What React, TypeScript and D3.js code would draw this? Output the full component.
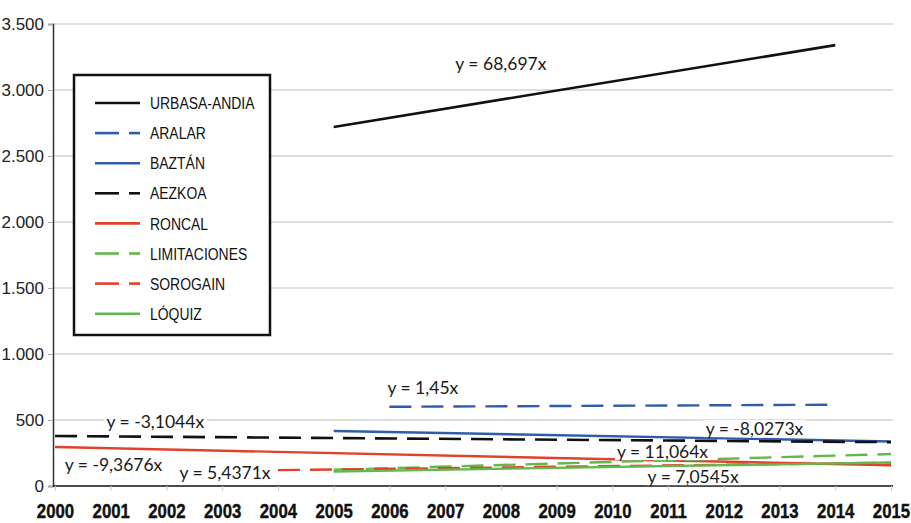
import { useEffect, useRef } from 'react';
import * as d3 from 'd3';

const years = [2000, 2001, 2002, 2003, 2004, 2005, 2006, 2007, 2008, 2009, 2010, 2011, 2012, 2013, 2014, 2015];
const yTicks = [0, 500, 1000, 1500, 2000, 2500, 3000, 3500];

const seriesNames = ['URBASA-ANDIA', 'ARALAR', 'BAZTÁN', 'AEZKOA', 'RONCAL', 'LIMITACIONES', 'SOROGAIN', 'LÓQUIZ'];
const seriesColors = ['#111111', '#2f5caa', '#2f5caa', '#111111', '#e0432b', '#62b84c', '#e0432b', '#62b84c'];
const seriesDashed = [false, true, false, true, false, true, true, false];
const startYears = [2005, 2006, 2005, 2000, 2000, 2005, 2004, 2005];
const endYears = [2014, 2014, 2015, 2015, 2015, 2015, 2015, 2015];
const startValues = [2720, 600, 417, 379, 295, 123, 120, 110];
const endValues = [3340, 616, 337, 332, 157, 242, 176, 178];

// trendline equation labels, anchored at (year, value) centre
const eqTexts = ['y = 68,697x', 'y = 1,45x', 'y = -3,1044x', 'y = -9,3676x', 'y = 5,4371x', 'y = -8,0273x', 'y = 11,064x', 'y = 7,0545x'];
const eqYears = [2008.0, 2006.6, 2001.8, 2001.05, 2003.05, 2012.55, 2010.9, 2011.45];
const eqValues = [3198, 742, 488, 158, 102, 432, 258, 68];

const W = 911;
const H = 523;
const NARROW = 0.82;

export default function App() {
  const svgRef = useRef<SVGSVGElement>(null);

  useEffect(() => {
    if (!svgRef.current) return;
    const svg = d3.select(svgRef.current);
    svg.selectAll('*').remove();

    const x = d3.scaleLinear().domain([2000, 2015]).range([55, 891]);
    const y = d3.scaleLinear().domain([0, 3500]).range([486, 24]);

    svg.append('rect').attr('width', W).attr('height', H).attr('fill', '#ffffff');

    // Grid lines
    svg
      .append('g')
      .selectAll('line')
      .data(yTicks.filter((d) => d > 0))
      .enter()
      .append('line')
      .attr('x1', 53)
      .attr('x2', 893)
      .attr('y1', (d) => y(d))
      .attr('y2', (d) => y(d))
      .attr('stroke', '#d4d4d4')
      .attr('stroke-width', 1.5);

    // Y axis
    const yAxis = svg
      .append('g')
      .attr('transform', 'translate(53,0)')
      .call(d3.axisLeft(y).tickValues(yTicks).tickSize(5).tickPadding(4).tickFormat((d) => d3.format(',')(d as number).replace(/,/g, '.')));
    yAxis.select('.domain').attr('stroke', '#333333').attr('stroke-width', 1.5);
    yAxis.selectAll('.tick line').attr('stroke', '#aaaaaa');
    yAxis
      .selectAll('text')
      .attr('fill', '#222222')
      .attr('font-family', '"Liberation Sans", Arial, sans-serif')
      .attr('font-size', '17px');

    // X axis (bold, horizontally condensed like Arial Narrow)
    const xAxis = svg
      .append('g')
      .attr('transform', 'translate(0,486)')
      .call(d3.axisBottom(x).tickValues(years).tickSize(5).tickPadding(12).tickFormat((d) => String(d)));
    xAxis.select('.domain').attr('stroke', '#111111').attr('stroke-width', 1.5).attr('d', 'M53,0H893');
    xAxis.selectAll('.tick line').attr('stroke', '#cccccc');
    xAxis
      .selectAll('text')
      .attr('fill', '#111111')
      .attr('font-family', '"Liberation Sans", Arial, sans-serif')
      .attr('font-weight', 'bold')
      .attr('font-size', '20.5px')
      .attr('stroke', '#111111')
      .attr('stroke-width', 0.4)
      .attr('transform', `scale(${NARROW},1)`);

    // Trend lines
    const idx = d3.range(seriesNames.length);
    const line = d3
      .line<[number, number]>()
      .x((d) => x(d[0]))
      .y((d) => y(d[1]));

    svg
      .append('g')
      .selectAll('path')
      .data(idx)
      .enter()
      .append('path')
      .attr('d', (i) =>
        line([
          [startYears[i], startValues[i]],
          [endYears[i], endValues[i]],
        ])
      )
      .attr('fill', 'none')
      .attr('stroke', (i) => seriesColors[i])
      .attr('stroke-width', (i) => (seriesColors[i] === '#111111' ? 2.6 : 2.4))
      .attr('stroke-dasharray', (i) => (seriesDashed[i] ? '22,10' : null));

    // Equation labels
    const labels = svg.append('g');
    eqTexts.forEach((t, i) => {
      const g = labels.append('g');
      const txt = g
        .append('text')
        .attr('x', x(eqYears[i]))
        .attr('y', y(eqValues[i]))
        .attr('dy', '0.35em')
        .attr('text-anchor', 'middle')
        .attr('fill', '#1a1a1a')
        .attr('font-family', 'Lato, "Open Sans", sans-serif')
        .attr('font-size', '17.5px')
        .text(t);
      const bb = (txt.node() as SVGTextElement).getBBox();
      g.insert('rect', 'text')
        .attr('x', bb.x - 2)
        .attr('y', bb.y + 2)
        .attr('width', bb.width + 4)
        .attr('height', bb.height - 4)
        .attr('fill', '#ffffff');
    });

    // Legend
    const legend = svg.append('g').attr('transform', 'translate(74,75)');
    legend
      .append('rect')
      .attr('width', 196)
      .attr('height', 260)
      .attr('fill', '#ffffff')
      .attr('stroke', '#111111')
      .attr('stroke-width', 2.5);

    idx.forEach((i) => {
      const row = legend.append('g').attr('transform', `translate(0,${28 + i * 30.1})`);
      if (seriesDashed[i]) {
        row.append('line').attr('x1', 21).attr('x2', 45).attr('y1', 0).attr('y2', 0)
          .attr('stroke', seriesColors[i]).attr('stroke-width', 2.6);
        row.append('line').attr('x1', 55).attr('x2', 66).attr('y1', 0).attr('y2', 0)
          .attr('stroke', seriesColors[i]).attr('stroke-width', 2.6);
      } else {
        row.append('line').attr('x1', 21).attr('x2', 66).attr('y1', 0).attr('y2', 0)
          .attr('stroke', seriesColors[i]).attr('stroke-width', 2.6);
      }
      row
        .append('text')
        .attr('transform', `translate(76,0) scale(${NARROW},1)`)
        .attr('dy', '0.36em')
        .attr('fill', '#111111')
        .attr('font-family', '"Liberation Sans", Arial, sans-serif')
        .attr('font-size', '17px')
        .text(seriesNames[i]);
    });
  }, []);

  return (
    <div style={{ position: 'absolute', left: 0, top: 0 }}>
      <svg ref={svgRef} width={W} height={H} style={{ display: 'block' }} />
    </div>
  );
}
